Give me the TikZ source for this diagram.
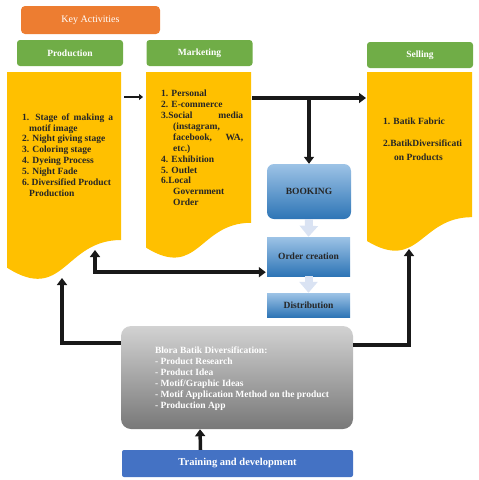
\documentclass[tikz,border=0pt]{standalone}
\usepackage{fontspec}
\setmainfont{Liberation Serif}
\usetikzlibrary{arrows.meta,positioning,calc}
\definecolor{keyorange}{HTML}{ED7D31}
\definecolor{headgreen}{HTML}{70AD47}
\definecolor{docyellow}{HTML}{FFC000}
\definecolor{bluetop}{HTML}{9DC3E6}
\definecolor{bluebot}{HTML}{2E75B6}
\definecolor{paleblue}{HTML}{DAE3F3}
\definecolor{trainblue}{HTML}{4472C4}
\definecolor{graytop}{HTML}{D2D2D2}
\definecolor{graybot}{HTML}{787878}
\definecolor{inkdark}{HTML}{262626}

\begin{document}
\begin{tikzpicture}[x=1pt,y=-1pt,>={Triangle[width=10pt,length=7pt]},
	txt/.style={font=\fontsize{9.5}{10.9}\selectfont\bfseries},
	head/.style={txt,fill=headgreen,text=white,rounded corners=3pt,minimum width=106pt,minimum height=26pt},
	docarea/.style={inner sep=0pt,outer sep=0pt},
	listtxt/.style={txt,text=inkdark,align=left,anchor=west,inner sep=0pt},
	bluebox/.style={txt,text=inkdark,top color=bluetop,bottom color=bluebot,minimum width=83pt},
	blk/.style={line width=3.5pt,->,black!90},
	pale/.style={paleblue,line width=8pt,-{Triangle[width=18pt,length=11pt]}}]
	\useasboundingbox (0,0) rectangle (479,480);
	\node[fill=keyorange,rounded corners=4pt,minimum width=139pt,minimum height=28pt,text=white,font=\fontsize{10}{12}\selectfont] (keyact) at (90.5,20) {Key Activities};
	\node[head] (prodhead) at (70,53) {Production};
	\node[head] (markhead) at (199.5,53) {Marketing};
	\node[head] (sellhead) at (420,55) {Selling};
	\node[docarea,minimum width=114pt,minimum height=209.5pt] (prodbox) at (64,176.75) {};
	\node[docarea,minimum width=105pt,minimum height=188pt] (markbox) at (198.5,166) {};
	\node[docarea,minimum width=105pt,minimum height=181pt] (sellbox) at (419.5,162.5) {};
	\foreach \b in {prodbox,markbox,sellbox}{\fill[docyellow] (\b.north west) -- (\b.north east) -- ($(\b.north east)!0.802!(\b.south east)$) .. controls ($(\b.north)!0.802!(\b.south)$) and ($(\b.north)!1.107!(\b.south)$) .. ($(\b.north west)!0.934!(\b.south west)$) -- cycle;}
	\node[listtxt] (prodtxt) at ($(prodbox.north west)+(15,83)$) {\hbox to 91pt{1.\hspace{6pt}Stage\hfill of\hfill making\hfill a}\\
		\hspace*{7pt}motif image\\
		2. Night giving stage\\
		3. Coloring stage\\
		4. Dyeing Process\\
		5. Night Fade\\
		6.\ Diversified Product\\
		\hspace*{7pt}Production};
	\node[listtxt] (marktxt) at ($(markbox.north west)+(15,76)$) {1. Personal\\
		2. E-commerce\\
		\hbox to 82pt{3.Social\hfill media}\\
		\hspace*{12pt}(instagram,\\
		\hbox to 82pt{\hspace*{12pt}facebook,\hfill WA,}\\
		\hspace*{12pt}etc.)\\
		4. Exhibition\\
		5. Outlet\\
		6.Local\\
		\hspace*{12pt}Government\\
		\hspace*{12pt}Order};
	\node[listtxt] (selltxt) at ($(sellbox.north west)+(16,67)$) {1. Batik Fabric\\[11pt]
		2.BatikDiversificati\\[3pt]
		\hspace*{11pt}on Products};
	\node[bluebox,rounded corners=7pt,minimum width=84pt,minimum height=55pt] (booking) at (309,191.5) {BOOKING};
	\node[bluebox,minimum height=39pt] (order) at (308.5,256.5) {Order creation};
	\node[bluebox,minimum height=24pt] (distrib) at (308.5,305) {Distribution};
	\draw[pale] (booking.south) -- (order.north);
	\draw[pale] (order.south) -- (distrib.north);
	\node[rounded corners=10pt,minimum width=232pt,minimum height=103pt,top color=graytop,bottom color=graybot] (divers) at (237,377.5) {};
	\node[listtxt,text=white] (diverstxt) at ($(divers.north west)+(34,53)$) {Blora Batik Diversification:\\
		- Product Research\\
		- Product Idea\\
		- Motif/Graphic Ideas\\
		- Motif Application Method on the product\\
		- Production App};
	\node[txt,fill=trainblue,text=white,rounded corners=2pt,minimum width=231pt,minimum height=27pt,font=\fontsize{10.5}{12}\selectfont\bfseries] (training) at (237.5,463.5) {Training and development};
	\draw[line width=2.5pt,black!90,-{Triangle[width=6pt,length=4pt]}] ($(prodbox.north east)+(3,25)$) -- ($(markbox.north west)+(-3,25)$);
	\coordinate (mk) at ($(markbox.north east)+(1,26)$);
	\draw[blk] (mk) -- ($(sellbox.north west)+(-1,26)$);
	\draw[blk] (booking.north |- mk) -- (booking.north);
	\draw[blk,<->] ($(prodbox.north west)+(88,178)$) |- ($(order.south west)+(-1,-4)$);
	\draw[blk] ($(divers.north west)+(0,17)$) -| ($(prodbox.north west)+(55,206)$);
	\draw[blk] ($(divers.north east)+(0,19)$) -| ($(sellbox.north west)+(42,177)$);
	\draw[blk] ($(training.north)+(-37,0)$) -- ($(divers.south)+(-37,0)$);
\end{tikzpicture}
\end{document}
